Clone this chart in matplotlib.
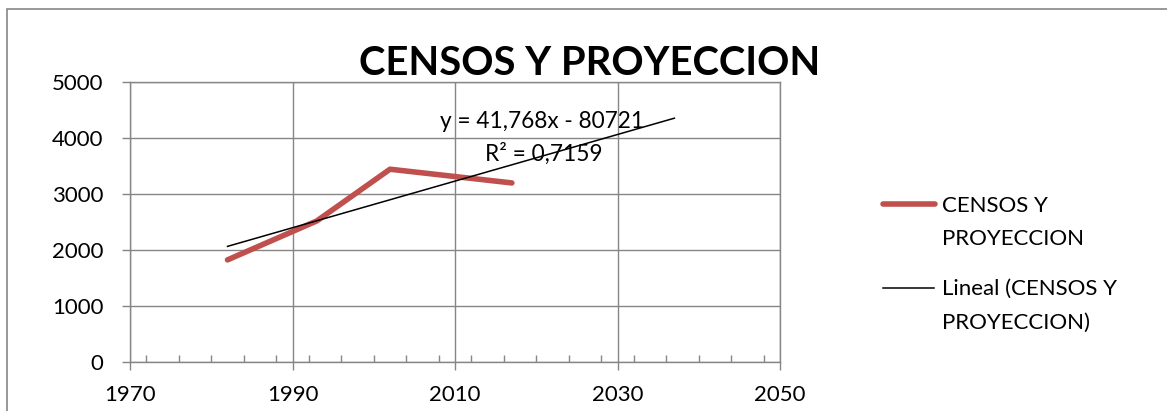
import matplotlib
matplotlib.use('Agg')
import matplotlib.pyplot as plt
from matplotlib.lines import Line2D
from matplotlib.patches import Rectangle
from matplotlib.ticker import MultipleLocator
import numpy as np

plt.rcParams['font.family'] = ['Lato', 'DejaVu Sans']

# ---- data ----
years = [1982, 1993, 2002, 2017]
values = [1821, 2520, 3446, 3200]
trend_slope = 41.768
trend_intercept = -80721
trend_span = [1982, 2037]
r_squared = 0.7159
x_ticks = [1970, 1990, 2010, 2030, 2050]
y_ticks = [0, 1000, 2000, 3000, 4000, 5000]
title = "CENSOS Y PROYECCION"
series_label_lines = ["CENSOS Y", "PROYECCION"]
trend_label_lines = ["Lineal (CENSOS Y", "PROYECCION)"]

RED = '#C0504D'
GRID = '#868686'

W, H = 1167, 411
fig = plt.figure(figsize=(W / 100, H / 100), dpi=100)
ax = fig.add_axes([130 / W, (H - 361.5) / H, 650 / W, 279 / H])

ax.plot(years, values, color=RED, lw=4, solid_capstyle='round',
        solid_joinstyle='round', zorder=3)
tx = np.array(trend_span, dtype=float)
ty = trend_slope * tx + trend_intercept
ax.plot(tx, ty, color='black', lw=1.1, zorder=4)

ax.set_xlim(x_ticks[0], x_ticks[-1])
ax.set_ylim(y_ticks[0], y_ticks[-1])
ax.set_xticks(x_ticks)
ax.set_yticks(y_ticks)
ax.xaxis.set_minor_locator(MultipleLocator(4))
ax.grid(True, which='major', color=GRID, lw=1)
ax.set_axisbelow(True)
for s in ax.spines.values():
    s.set_color(GRID)
    s.set_linewidth(1)
ax.tick_params(which='major', direction='out', length=6, width=1, color=GRID,
               labelsize=16, top=False, right=False)
ax.tick_params(axis='y', pad=13)
ax.tick_params(axis='x', pad=11)
ax.tick_params(axis='x', which='minor', direction='in', length=5, width=1,
               color=GRID, top=False)

# trendline equation
eq = "y = {}x - {}".format(f"{trend_slope:.3f}".replace('.', ','), abs(trend_intercept))
r2 = "R² = {}".format(f"{r_squared:.4f}".replace('.', ','))
fig.text(542.5 / W, 1 - 128 / H, eq, ha='center', va='baseline', fontsize=16.3)
fig.text(544 / W, 1 - 160.7 / H, r2, ha='center', va='baseline', fontsize=16.3)

# title
fig.text(590 / W, 1 - 75 / H, title, ha='center', va='baseline',
         fontsize=28.8, fontweight='bold')

# legend (manual, Excel style)
fig.add_artist(Line2D([883 / W, 935 / W], [1 - 204 / H] * 2, color=RED, lw=4,
                      solid_capstyle='round'))
fig.add_artist(Line2D([883 / W, 934 / W], [1 - 287.5 / H] * 2, color='black', lw=1.1))
for t, b in zip(series_label_lines, [211.7, 245]):
    fig.text(941.5 / W, 1 - b / H, t, ha='left', va='baseline', fontsize=16)
for t, b in zip(trend_label_lines, [295, 329]):
    fig.text(941.5 / W, 1 - b / H, t, ha='left', va='baseline', fontsize=16)

# chart area border
fig.add_artist(Rectangle((7 / W, -0.2), 1.5, 1 - 9 / H + 0.2, fill=False,
                         edgecolor=GRID, lw=1.2))

fig.savefig('out.png', dpi=100)
